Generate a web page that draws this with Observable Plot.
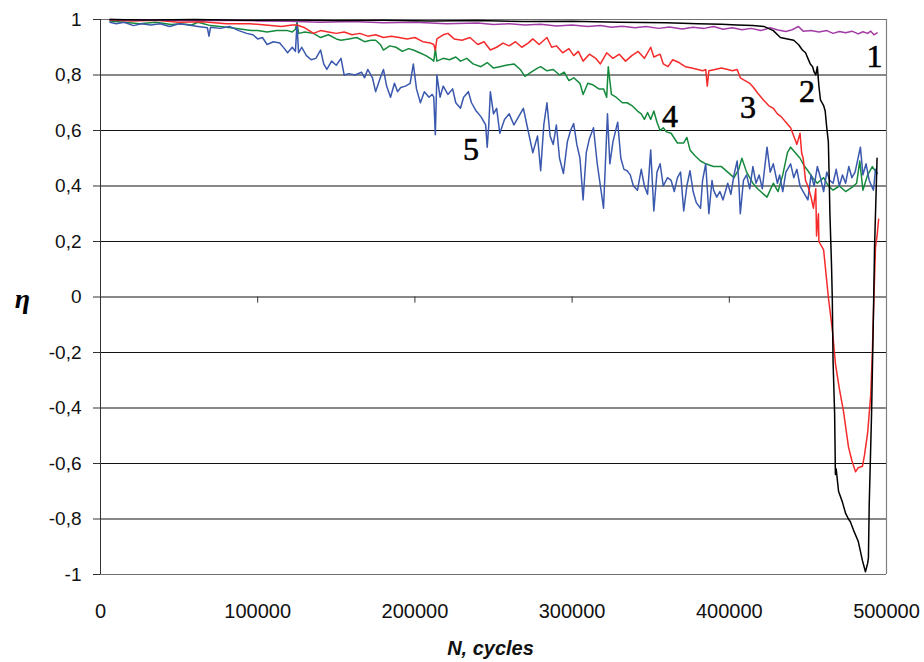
<!DOCTYPE html>
<html>
<head>
<meta charset="utf-8">
<script src="https://cdn.jsdelivr.net/npm/d3@7"></script>
<script src="https://cdn.jsdelivr.net/npm/@observablehq/plot@0.6"></script>
<style>
  html, body { margin: 0; padding: 0; background: #fff; }
  #chart svg { display: block; }
</style>
</head>
<body>
<div id="chart"></div>
<script>
// N in thousands of cycles, eta
const series1 = [[6,1.0],[20,0.998],[40,0.997],[60,0.996],[80,0.997],[100,0.995],[120,0.994],[140,0.99],[160,0.993],[180,0.988],[200,0.99],[220,0.985],[240,0.987],[250,0.982],[260,0.985],[270,0.98],[280,0.983],[290,0.977],[300,0.98],[310,0.975],[318,0.978],[325,0.972],[332,0.976],[340,0.97],[347,0.975],[355,0.968],[362,0.973],[370,0.966],[377,0.972],[384,0.968],[390,0.975],[396,0.965],[402,0.97],[408,0.963],[414,0.968],[420,0.96],[426,0.97],[431,0.962],[436,0.957],[440,0.963],[444,0.975],[447,0.958],[452,0.96],[457,0.955],[462,0.96],[466,0.95],[470,0.957],[474,0.952],[478,0.958],[482,0.948],[485,0.956],[488,0.95],[490,0.958],[492,0.945],[494,0.952]];

const series2 = [[6,1.0],[30,0.998],[60,1.0],[90,0.997],[120,0.998],[150,0.996],[180,0.997],[210,0.995],[240,0.996],[270,0.993],[300,0.994],[330,0.99],[360,0.988],[380,0.985],[395,0.983],[405,0.98],[415,0.978],[422,0.975],[428,0.96],[432.5,0.935],[437,0.93],[441,0.925],[444,0.91],[446.5,0.89],[448.5,0.88],[450,0.86],[451.5,0.84],[453,0.83],[454,0.81],[455,0.80],[456,0.83],[457,0.76],[458,0.71],[460,0.69],[461,0.67],[462,0.61],[463,0.56],[463.5,0.44],[464,0.30],[465,0.12],[465.5,0.0],[466,-0.23],[467,-0.42],[467.5,-0.64],[468,-0.62],[469.5,-0.70],[472,-0.74],[474,-0.78],[475.8,-0.80],[477,-0.81],[479,-0.84],[482,-0.88],[484.7,-0.95],[486.6,-0.99],[488,-0.96],[488.5,-0.94],[489,-0.75],[490.5,-0.42],[491.7,-0.06],[492.4,0.18],[493.6,0.42],[494,0.5]];

const series3 = [[6,0.998],[20,0.995],[35,0.997],[50,0.99],[65,0.992],[80,0.985],[95,0.985],[105,0.98],[115,0.975],[122,0.98],[125,0.98],[130,0.97],[135.5,0.95],[140,0.96],[145,0.955],[150,0.95],[155,0.955],[160,0.945],[165,0.95],[170,0.94],[175,0.945],[180,0.935],[185,0.94],[190,0.935],[195,0.93],[200,0.935],[205,0.92],[210,0.915],[212,0.91],[213,0.89],[214,0.93],[218,0.945],[221,0.95],[225,0.93],[230,0.925],[235,0.935],[240,0.91],[244,0.92],[248,0.89],[252,0.9],[256,0.915],[260,0.905],[264,0.92],[268,0.9],[272,0.915],[275,0.93],[279,0.91],[284,0.935],[287,0.9],[290,0.905],[294,0.88],[298,0.895],[301,0.87],[304,0.885],[307,0.85],[311,0.875],[315,0.86],[318,0.84],[322,0.88],[326,0.86],[330,0.875],[334,0.85],[338,0.87],[342,0.885],[346,0.86],[350,0.9],[352,0.865],[356,0.875],[358,0.84],[361,0.83],[364,0.855],[368,0.845],[372,0.83],[376,0.825],[380,0.82],[383,0.815],[385,0.82],[386,0.76],[387,0.815],[391,0.82],[395,0.825],[399,0.82],[402,0.815],[405,0.82],[407,0.79],[410,0.78],[413,0.77],[415.4,0.755],[418,0.735],[421.7,0.71],[425,0.69],[428,0.68],[430.6,0.66],[433,0.65],[436,0.63],[439,0.61],[441,0.58],[443,0.55],[445,0.59],[446,0.52],[447,0.50],[448.5,0.42],[450,0.40],[452,0.36],[453.5,0.32],[455,0.39],[455.5,0.22],[456.7,0.30],[457,0.20],[460,0.17],[463,0.0],[465.6,-0.12],[467.5,-0.24],[470,-0.33],[472.6,-0.41],[475.8,-0.54],[478,-0.59],[480.3,-0.63],[482,-0.615],[484.7,-0.61],[486,-0.57],[488,-0.49],[490,-0.35],[491,-0.2],[491.7,-0.06],[493,0.18],[494,0.22],[495,0.28]];

const series4 = [[6,0.995],[15,0.99],[25,0.985],[35,0.99],[45,0.982],[51,0.985],[58,0.98],[62,0.99],[70,0.978],[76,0.975],[83,0.97],[90,0.965],[96,0.96],[100,0.96],[106,0.955],[112,0.96],[119,0.96],[122,0.955],[124,0.965],[125,0.99],[126,0.95],[130,0.955],[135.5,0.95],[140,0.935],[145,0.945],[150,0.93],[153,0.925],[158,0.93],[163,0.935],[168,0.92],[172,0.925],[175,0.925],[178,0.91],[180,0.89],[184,0.905],[188,0.9],[192,0.885],[196,0.895],[199,0.89],[203,0.88],[207,0.87],[211,0.855],[212,0.85],[213,0.895],[214,0.85],[218,0.86],[222,0.855],[226,0.865],[229,0.85],[233,0.86],[237,0.84],[242,0.83],[246,0.845],[250,0.825],[254,0.83],[258,0.835],[263,0.84],[267,0.82],[270,0.795],[274,0.81],[278,0.825],[280,0.83],[284,0.815],[288,0.82],[292,0.80],[295,0.81],[298,0.78],[301,0.79],[305,0.77],[307,0.73],[310,0.77],[313,0.765],[317,0.75],[320,0.75],[322,0.72],[323,0.83],[325,0.73],[328,0.72],[332,0.70],[335,0.70],[338,0.69],[341.6,0.67],[344,0.66],[346,0.64],[348,0.665],[350,0.64],[352,0.67],[354,0.63],[356,0.60],[358,0.61],[360,0.595],[363,0.59],[367,0.555],[371,0.555],[373,0.575],[375,0.53],[378,0.51],[381.7,0.49],[385,0.48],[390,0.47],[395,0.47],[399,0.45],[403,0.43],[406,0.46],[408,0.50],[411,0.45],[415,0.41],[418,0.39],[422,0.37],[424,0.36],[426,0.385],[428,0.41],[431,0.38],[434,0.44],[437,0.52],[439,0.54],[442,0.52],[445,0.50],[448,0.47],[450,0.455],[453,0.43],[456,0.41],[460,0.43],[463,0.40],[466,0.385],[470,0.40],[474,0.38],[478,0.395],[481,0.41],[483,0.49],[485,0.385],[488,0.44],[491,0.47],[494,0.445]];

const series5 = [[6,0.99],[10,0.985],[15,0.99],[21,0.978],[26,0.985],[32,0.98],[38,0.985],[44,0.975],[50,0.985],[56,0.98],[62,0.975],[68,0.97],[69,0.94],[70,0.972],[76,0.968],[82,0.975],[88,0.96],[93,0.95],[97,0.945],[100,0.93],[103,0.935],[106,0.91],[110,0.92],[114,0.915],[117,0.895],[119,0.88],[122,0.9],[124,0.885],[125,0.985],[126,0.88],[128,0.9],[131,0.87],[134,0.855],[137,0.86],[140,0.89],[142,0.84],[144,0.82],[147,0.85],[150,0.835],[153,0.86],[155,0.8],[158,0.805],[162,0.8],[166,0.81],[168,0.79],[170,0.82],[173,0.79],[175,0.74],[178,0.79],[180,0.82],[182,0.76],[184.5,0.72],[187,0.77],[189,0.74],[191,0.755],[194,0.76],[197,0.77],[199,0.84],[201,0.75],[203.5,0.70],[206,0.74],[209,0.72],[211,0.73],[212,0.72],[213,0.585],[214,0.80],[216,0.72],[218,0.76],[221,0.73],[224,0.75],[226,0.70],[229,0.68],[231,0.72],[234,0.74],[236,0.70],[239,0.67],[242,0.65],[244,0.63],[245,0.62],[246,0.54],[247,0.62],[248,0.74],[250,0.66],[252,0.68],[254,0.59],[257,0.64],[260,0.66],[263,0.62],[266,0.65],[269,0.68],[272,0.60],[275,0.52],[278,0.58],[280,0.455],[282,0.62],[284,0.70],[286,0.58],[288,0.55],[290,0.62],[292,0.50],[294.5,0.445],[297,0.56],[299,0.60],[301,0.625],[303,0.55],[305,0.50],[307,0.35],[309,0.52],[311,0.57],[313.6,0.61],[316,0.48],[318,0.40],[320,0.32],[322.5,0.66],[324,0.48],[326,0.56],[329,0.63],[331,0.50],[333,0.46],[335,0.455],[337,0.44],[339,0.40],[341.6,0.385],[344,0.46],[346,0.40],[348,0.37],[350,0.53],[352,0.31],[354,0.45],[356,0.48],[358,0.40],[360.7,0.43],[363,0.42],[365,0.38],[367,0.43],[369,0.45],[371,0.31],[373,0.40],[375,0.455],[377,0.38],[379,0.34],[381.7,0.32],[383,0.42],[385,0.48],[387,0.30],[389,0.42],[390,0.385],[392,0.36],[394,0.38],[396,0.35],[399,0.41],[401,0.37],[403,0.44],[405,0.49],[406,0.42],[407,0.30],[409,0.42],[411,0.44],[413,0.39],[415,0.47],[417,0.41],[419,0.44],[421,0.39],[424,0.54],[426,0.45],[428,0.48],[430.6,0.41],[432,0.44],[434,0.38],[436,0.45],[439,0.48],[441,0.43],[443,0.46],[445,0.40],[447,0.38],[450,0.35],[452,0.44],[454,0.40],[456,0.47],[458,0.43],[460,0.38],[462,0.45],[464,0.42],[466,0.41],[468,0.46],[470,0.40],[472,0.44],[474,0.41],[476,0.47],[478,0.43],[480,0.45],[483.4,0.54],[485,0.44],[487,0.48],[489,0.42],[491.7,0.385],[493,0.46],[494,0.445]];

const seriesNames = ["1", "2", "3", "4", "5"];
const seriesColors = ["#a23ca5", "#000000", "#f52a2a", "#168a3c", "#3a58ad"];
// label anchor points (thousand cycles, eta)
const labelN = [492.3, 449.5, 411.9, 362.3, 235.7];
const labelEta = [0.867, 0.741, 0.683, 0.650, 0.532];

const xTicks = [0, 100000, 200000, 300000, 400000, 500000];
const yTicks = [-1, -0.8, -0.6, -0.4, -0.2, 0, 0.2, 0.4, 0.6, 0.8, 1];

const allSeries = [series1, series2, series3, series4, series5];
const drawOrder = [3, 4, 2, 0, 1];

const fmtY = d => String(Math.round(d * 10) / 10).replace(".", ",");

const lineMarks = drawOrder.map(i =>
  Plot.line(allSeries[i], {
    x: d => d[0] * 1000,
    y: d => d[1],
    stroke: seriesColors[i],
    strokeWidth: 1.5,
    strokeLinejoin: "round"
  })
);

const labelData = seriesNames.map((name, i) => ({name, n: labelN[i] * 1000, eta: labelEta[i]}));

const chart = Plot.plot({
  width: 924,
  height: 662,
  marginLeft: 100,
  marginRight: 38,
  marginTop: 19,
  marginBottom: 88,
  style: {fontFamily: "'Liberation Sans', Arial, sans-serif", background: "#fff", overflow: "visible"},
  x: {domain: [0, 500000], ticks: xTicks},
  y: {domain: [-1, 1], ticks: yTicks},
  marks: [
    Plot.ruleY(yTicks.filter(v => v > -1 && v < 1), {stroke: "#111", strokeWidth: 1}),
    Plot.ruleY([1, -1], {stroke: "#707070", strokeWidth: 1.2}),
    Plot.ruleX([500000], {stroke: "#808080", strokeWidth: 1.2}),
    Plot.ruleX(xTicks.slice(1, -1), {y1: 0, y2: -0.022, stroke: "#333"}),
    ...lineMarks,
    Plot.ruleX([0], {stroke: "#333", strokeWidth: 1}),
    Plot.axisY(yTicks, {
      tickSize: 7, tickPadding: 12, fontSize: 19, tickFormat: fmtY,
      stroke: "#333", fill: "#111", label: null
    }),
    Plot.axisX(xTicks, {
      tickSize: 0, tickPadding: 29, fontSize: 20, tickFormat: d => String(d),
      fill: "#111", label: null
    }),
    Plot.text(labelData, {
      x: "n", y: "eta", text: "name",
      fontFamily: "'Liberation Serif', 'Times New Roman', serif",
      fontSize: 32, fill: "#000", stroke: "#000", strokeWidth: 0.6,
      textAnchor: "middle", lineAnchor: "middle"
    }),
    Plot.text(["η"], {
      frameAnchor: "left", dx: -78, dy: 2,
      fontFamily: "'Liberation Serif', 'Times New Roman', serif",
      fontSize: 28, fontWeight: "bold", fontStyle: "italic", fill: "#000",
      textAnchor: "middle", lineAnchor: "middle"
    }),
    Plot.text(["N, cycles"], {
      frameAnchor: "bottom", dy: 74,
      fontFamily: "'Liberation Sans', Arial, sans-serif",
      fontSize: 20, fontWeight: "bold", fontStyle: "italic", fill: "#111",
      textAnchor: "middle", lineAnchor: "middle", dx: -3
    })
  ]
});

document.getElementById("chart").appendChild(chart);
</script>
</body>
</html>
